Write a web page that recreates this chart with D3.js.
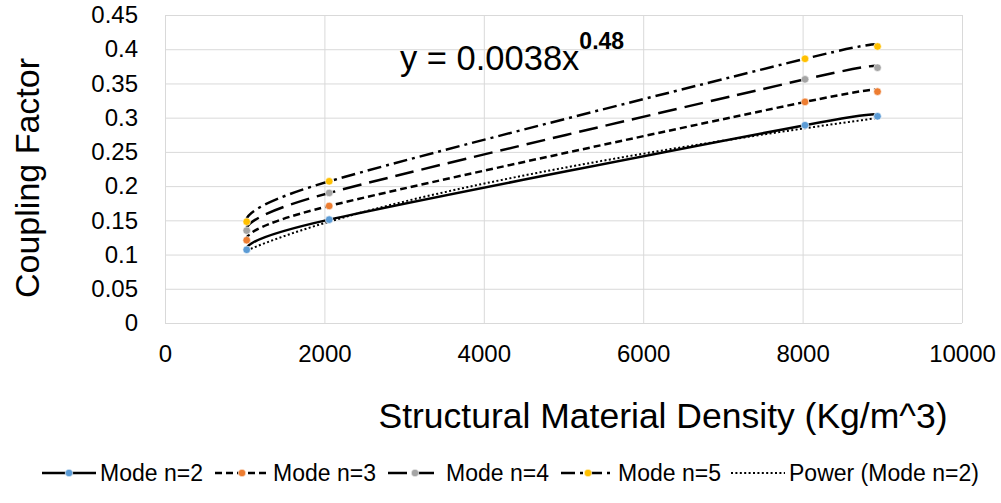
<!DOCTYPE html>
<html>
<head>
<meta charset="utf-8">
<script src="https://cdn.jsdelivr.net/npm/d3@7"></script>
<style>
  html, body { margin: 0; padding: 0; background: #fff; }
  svg { display: block; font-family: "Liberation Sans", Arial, sans-serif; }
</style>
</head>
<body>
<svg id="chart" width="1001" height="503"></svg>
<script>
// Structural material density (kg/m^3)
const densities = [1025, 2060, 8030, 8940];

// Coupling factor for each vibration mode
const modeN2 = [0.107, 0.151, 0.289, 0.302];
const modeN3 = [0.121, 0.171, 0.323, 0.338];
const modeN4 = [0.135, 0.190, 0.356, 0.373];
const modeN5 = [0.148, 0.207, 0.386, 0.404];

const seriesNames = ["Mode n=2", "Mode n=3", "Mode n=4", "Mode n=5"];
const trendName = "Power (Mode n=2)";

// Power trendline fitted to Mode n=2: y = a * x^b
const trendCoef = 0.0038;
const trendExp = 0.48;

const xTicks = [0, 2000, 4000, 6000, 8000, 10000];
const yTicks = [0, 0.05, 0.1, 0.15, 0.2, 0.25, 0.3, 0.35, 0.4, 0.45];

const markerColors = ["#5b9bd5", "#ed7d31", "#a5a5a5", "#ffc000"];
const dashes = ["none", "7,4", "19,8", "14,5,3,5"];
const trendDash = "2,2.4";

const svg = d3.select("#chart");
const plot = { left: 165, right: 962, top: 15, bottom: 323 };

const x = d3.scaleLinear().domain([0, 10000]).range([plot.left, plot.right]);
const y = d3.scaleLinear().domain([0, 0.45]).range([plot.bottom, plot.top]);

// Gridlines
svg.append("g")
  .attr("transform", `translate(0,${plot.bottom})`)
  .call(d3.axisBottom(x).tickValues(xTicks).tickSize(-(plot.bottom - plot.top)).tickFormat(""))
  .call(g => g.select(".domain").remove())
  .call(g => g.selectAll("line").attr("stroke", "#d9d9d9").attr("stroke-width", 1));
svg.append("g")
  .attr("transform", `translate(${plot.left},0)`)
  .call(d3.axisLeft(y).tickValues(yTicks).tickSize(-(plot.right - plot.left)).tickFormat(""))
  .call(g => g.select(".domain").remove())
  .call(g => g.selectAll("line").attr("stroke", "#d9d9d9").attr("stroke-width", 1));

// Tick labels
svg.append("g")
  .attr("transform", `translate(0,${plot.bottom + 19})`)
  .call(d3.axisBottom(x).tickValues(xTicks).tickSize(0).tickFormat(d3.format("d")))
  .call(g => g.select(".domain").remove())
  .call(g => g.selectAll("text").attr("font-size", 24).attr("fill", "#000")
    .attr("font-family", "Liberation Sans, Arial, sans-serif"));
svg.append("g")
  .attr("transform", `translate(${plot.left - 24},0)`)
  .call(d3.axisLeft(y).tickValues(yTicks).tickSize(0).tickFormat(d => d3.format("")(+d.toFixed(2))))
  .call(g => g.select(".domain").remove())
  .call(g => g.selectAll("text").attr("font-size", 24).attr("fill", "#000")
    .attr("font-family", "Liberation Sans, Arial, sans-serif"));

// Axis titles
svg.append("text")
  .attr("transform", `translate(39,${(plot.top + plot.bottom) / 2 + 9}) rotate(-90)`)
  .attr("text-anchor", "middle")
  .attr("font-size", 34)
  .text("Coupling Factor");
svg.append("text")
  .attr("x", 663).attr("y", 428)
  .attr("text-anchor", "middle")
  .attr("font-size", 35.5)
  .text("Structural Material Density (Kg/m^3)");

// Series lines and markers
const allSeries = [modeN2, modeN3, modeN4, modeN5];
const line = d3.line()
  .x((d, i) => x(densities[i]))
  .y(d => y(d))
  .curve(d3.curveCardinal.tension(0));

const gSeries = svg.append("g");
allSeries.forEach((vals, k) => {
  gSeries.append("path")
    .attr("d", line(vals))
    .attr("fill", "none")
    .attr("stroke", "#000")
    .attr("stroke-width", 2.5)
    .attr("stroke-dasharray", dashes[k]);
});

// Power trendline for Mode n=2
const trendX = d3.range(densities[0], densities[densities.length - 1] + 1, 40);
gSeries.append("path")
  .attr("d", d3.line().x(d => x(d)).y(d => y(trendCoef * Math.pow(d, trendExp)))(trendX))
  .attr("fill", "none")
  .attr("stroke", "#000")
  .attr("stroke-width", 2)
  .attr("stroke-dasharray", trendDash);

allSeries.forEach((vals, k) => {
  gSeries.selectAll(null).data(vals).join("circle")
    .attr("cx", (d, i) => x(densities[i]))
    .attr("cy", d => y(d))
    .attr("r", 3.8)
    .attr("fill", markerColors[k])
    .attr("stroke", "#fff")
    .attr("stroke-width", 0.6);
});

// Trendline equation
const eq = svg.append("text").attr("x", 400).attr("y", 70).attr("font-size", 34.5);
eq.append("tspan").text(`y = ${trendCoef}x`);
eq.append("tspan").attr("dy", -21).attr("font-size", 23).attr("font-weight", "bold").text(trendExp);

// Legend
const legendY = 473;
const legendItems = [
  { x0: 42, tx: 100, k: 0 },
  { x0: 215, tx: 273, k: 1 },
  { x0: 388, tx: 446, k: 2 },
  { x0: 561, tx: 618, k: 3 }
];
const gLeg = svg.append("g");
legendItems.forEach(it => {
  gLeg.append("line")
    .attr("x1", it.x0).attr("x2", it.x0 + 54)
    .attr("y1", legendY).attr("y2", legendY)
    .attr("stroke", "#000").attr("stroke-width", 2.5)
    .attr("stroke-dasharray", dashes[it.k]);
  gLeg.append("circle")
    .attr("cx", it.x0 + 27).attr("cy", legendY).attr("r", 3.8)
    .attr("fill", markerColors[it.k]).attr("stroke", "#fff").attr("stroke-width", 0.6);
  gLeg.append("text")
    .attr("x", it.tx).attr("y", legendY + 8)
    .attr("font-size", 23)
    .text(seriesNames[it.k]);
});
gLeg.append("line")
  .attr("x1", 731).attr("x2", 785)
  .attr("y1", legendY).attr("y2", legendY)
  .attr("stroke", "#000").attr("stroke-width", 2)
  .attr("stroke-dasharray", trendDash);
gLeg.append("text")
  .attr("x", 789).attr("y", legendY + 8)
  .attr("font-size", 23)
  .text(trendName);
</script>
</body>
</html>
